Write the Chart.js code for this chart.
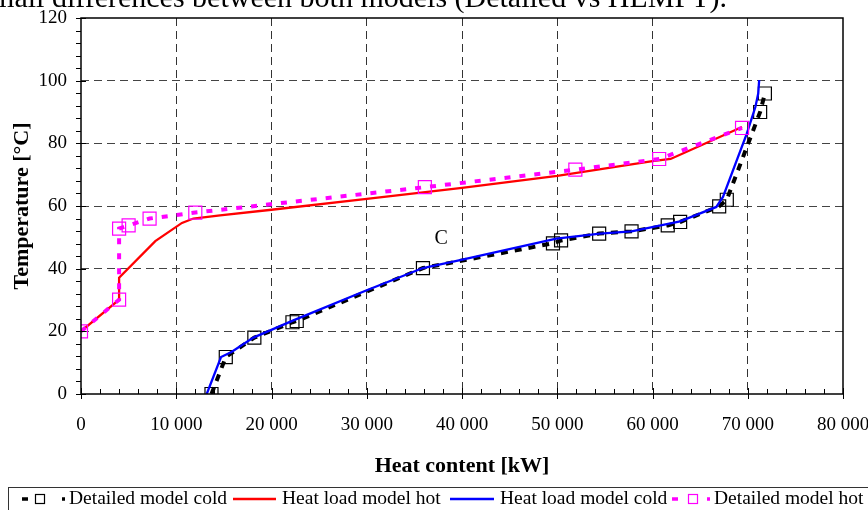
<!DOCTYPE html>
<html>
<head>
<meta charset="utf-8">
<script src="https://cdn.jsdelivr.net/npm/chart.js@4.4.0/dist/chart.umd.min.js"></script>
<style>
    html, body { margin: 0; padding: 0; background: #fff; }
    #wrap { position: relative; width: 868px; height: 510px; overflow: hidden; }
</style>
</head>
<body>
<div id="wrap"><canvas id="heatChart" width="868" height="510"></canvas></div>
<script>
// Detailed model, cold stream (markers + dashed line)
const detColdX = [13700, 15200, 18200, 22200, 22650, 35900, 49550, 50400, 54400, 57800, 61600, 62900, 67000, 67800, 71300, 71800];
const detColdT = [0, 11.8, 18, 22.9, 23.3, 40.2, 48.1, 49, 51.2, 51.9, 53.8, 54.9, 59.9, 62, 90, 95.9];

// Heat load model, hot stream
const hlmHotX = [0, 4000, 4000, 7800, 10600, 11800, 14600, 20000, 30000, 40000, 50000, 60000, 61900, 69400];
const hlmHotT = [20, 30.1, 37.1, 48.8, 54.6, 56, 57, 58.8, 62.3, 65.8, 69.6, 74.3, 75, 85.2];

// Heat load model, cold stream
const hlmColdX = [13200, 14700, 15800, 18100, 22300, 30000, 35900, 39800, 49900, 54500, 57800, 61500, 62900, 66700, 67400, 69900, 70800, 71100, 71200];
const hlmColdT = [0, 11.8, 13.4, 18, 23.5, 33.1, 40.2, 42.7, 49.6, 51.2, 51.9, 54.2, 55.1, 59.7, 62.9, 83.1, 91.6, 95.9, 100.2];

// Detailed model, hot stream (markers + dashed line)
const detHotX = [0, 4000, 4000, 5000, 7200, 12000, 36100, 51900, 60700, 69400];
const detHotT = [20, 30.1, 52.8, 53.8, 56, 57.9, 66, 71.6, 75, 84.9];

const xTicksMax = 80000;
const yTicksMax = 120;
const captionText = 'small differences between both models (Detailed vs HLMPT).';
const regionLabel = { text: 'C', x: 37800, y: 49.7 };

const serif = 'Liberation Serif';

function toPoints(xs, ys) {
    return xs.map((x, i) => ({ x: x, y: ys[i] }));
}

function fmt(v) {
    return String(v).replace(/\B(?=(\d{3})+(?!\d))/g, ' ');
}

// frame, axis lines, major/minor tick marks
const frameTicks = {
    id: 'frameTicks',
    afterDraw(chart) {
        const ctx = chart.ctx;
        const a = chart.chartArea;
        const xs = chart.scales.x, ys = chart.scales.y;
        ctx.save();
        ctx.strokeStyle = '#000';
        ctx.lineWidth = 1.5;
        ctx.setLineDash([]);
        ctx.strokeRect(a.left, a.top, a.right - a.left, a.bottom - a.top);

        ctx.lineWidth = 1;
        ctx.beginPath();
        for (let v = 0; v <= xTicksMax; v += 2000) {
            const px = Math.round(xs.getPixelForValue(v)) + 0.5;
            if (v % 10000 === 0) {
                ctx.moveTo(px, a.bottom - 6); ctx.lineTo(px, a.bottom + 5);
            } else {
                ctx.moveTo(px, a.bottom - 5); ctx.lineTo(px, a.bottom);
            }
        }
        for (let v = 0; v <= yTicksMax; v += 4) {
            const py = Math.round(ys.getPixelForValue(v)) + 0.5;
            if (v % 20 === 0) {
                ctx.moveTo(a.left - 5, py); ctx.lineTo(a.left + 5, py);
            } else {
                ctx.moveTo(a.left - 5, py); ctx.lineTo(a.left, py);
            }
        }
        ctx.stroke();
        ctx.restore();
    }
};

// caption line, region label and the boxed legend at the bottom
const extras = {
    id: 'extras',
    afterDraw(chart) {
        const ctx = chart.ctx;
        const xs = chart.scales.x, ys = chart.scales.y;
        ctx.save();
        ctx.fillStyle = '#000';

        ctx.font = '30px "' + serif + '"';
        ctx.textAlign = 'right';
        ctx.textBaseline = 'alphabetic';
        ctx.fillText(captionText, 727, 7);

        ctx.font = '20px "' + serif + '"';
        ctx.textAlign = 'center';
        ctx.textBaseline = 'middle';
        ctx.fillText(regionLabel.text, xs.getPixelForValue(regionLabel.x), ys.getPixelForValue(regionLabel.y));

        // legend box
        ctx.strokeStyle = '#333';
        ctx.lineWidth = 1;
        ctx.strokeRect(8.5, 487.5, 900, 40);

        const ly = 499;
        const ds = chart.data.datasets;
        ctx.font = '19.5px "' + serif + '"';
        ctx.textAlign = 'left';

        function dashedSample(color, x0, sq, x1, lw) {
            ctx.strokeStyle = color;
            ctx.lineWidth = lw;
            ctx.beginPath();
            ctx.moveTo(x0, ly); ctx.lineTo(x0 + 6, ly);
            ctx.moveTo(x1, ly); ctx.lineTo(x1 + 3, ly);
            ctx.stroke();
            ctx.lineWidth = 1.2;
            ctx.strokeRect(sq - 4.5, ly - 4.5, 9, 9);
        }
        function lineSample(color, x0, x1) {
            ctx.strokeStyle = color;
            ctx.lineWidth = 2.3;
            ctx.beginPath();
            ctx.moveTo(x0, ly); ctx.lineTo(x1, ly);
            ctx.stroke();
        }

        dashedSample('#000', 22, 40, 62, 3.5);
        ctx.fillText(ds[0].label, 69, ly);
        lineSample('#ff0000', 233, 276);
        ctx.fillText(ds[1].label, 282, ly);
        lineSample('#0000ff', 450, 494);
        ctx.fillText(ds[2].label, 500, ly);
        dashedSample('#ff00ff', 672, 693, 707, 3.5);
        ctx.fillText(ds[3].label, 714, ly);

        ctx.restore();
    }
};

const ctx = document.getElementById('heatChart').getContext('2d');
new Chart(ctx, {
    type: 'scatter',
    data: {
        datasets: [
            {
                label: 'Detailed model cold',
                data: toPoints(detColdX, detColdT),
                showLine: true,
                borderColor: '#000',
                borderWidth: 4,
                borderDash: [7, 7],
                pointStyle: 'rect',
                pointRadius: 9.2,
                pointBorderWidth: 1.2,
                pointBorderColor: '#000',
                pointBackgroundColor: 'rgba(0,0,0,0)',
                order: 3
            },
            {
                label: 'Heat load model hot',
                data: toPoints(hlmHotX, hlmHotT),
                showLine: true,
                borderColor: '#ff0000',
                borderWidth: 2.3,
                pointRadius: 0,
                order: 2
            },
            {
                label: 'Heat load model cold',
                data: toPoints(hlmColdX, hlmColdT),
                showLine: true,
                borderColor: '#0000ff',
                borderWidth: 2.3,
                pointRadius: 0,
                order: 1
            },
            {
                label: 'Detailed model hot',
                data: toPoints(detHotX, detHotT),
                showLine: true,
                borderColor: '#ff00ff',
                borderWidth: 4,
                borderDash: [6, 9],
                pointStyle: 'rect',
                pointRadius: 9.2,
                pointBorderWidth: 1.2,
                pointBorderColor: '#ff00ff',
                pointBackgroundColor: 'rgba(0,0,0,0)',
                order: 0
            }
        ]
    },
    options: {
        responsive: false,
        animation: false,
        layout: { autoPadding: false, padding: { top: 18, right: 25, bottom: 0, left: 0 } },
        plugins: {
            legend: { display: false },
            tooltip: { enabled: false }
        },
        scales: {
            x: {
                type: 'linear',
                min: 0,
                max: xTicksMax,
                afterFit: function (scale) {
                    scale.height = 116;
                    scale.paddingLeft = 0;
                    scale.paddingRight = 0;
                },
                ticks: {
                    stepSize: 10000,
                    padding: 20,
                    color: '#000',
                    maxRotation: 0,
                    font: { family: serif, size: 19 },
                    callback: v => fmt(v)
                },
                grid: {
                    drawTicks: false,
                    lineWidth: 1,
                    color: c => (c.tick && (c.tick.value === 0 || c.tick.value === xTicksMax)) ? 'rgba(0,0,0,0)' : '#333'
                },
                border: { display: false, dash: [8, 5] },
                title: {
                    display: true,
                    text: 'Heat content [kW]',
                    color: '#000',
                    font: { family: serif, size: 22, weight: 'bold' },
                    padding: { top: 0, bottom: 30 }
                }
            },
            y: {
                type: 'linear',
                min: 0,
                max: yTicksMax,
                afterFit: function (scale) {
                    scale.width = 81;
                    scale.paddingTop = 0;
                    scale.paddingBottom = 0;
                },
                ticks: {
                    stepSize: 20,
                    padding: 14,
                    color: '#000',
                    font: { family: serif, size: 19 }
                },
                grid: {
                    drawTicks: false,
                    lineWidth: 1,
                    color: c => (c.tick && (c.tick.value === 0 || c.tick.value === yTicksMax)) ? 'rgba(0,0,0,0)' : '#444'
                },
                border: { display: false, dash: [8, 5] },
                title: {
                    display: true,
                    text: 'Temperature [°C]',
                    color: '#000',
                    font: { family: serif, size: 22, weight: 'bold' },
                    padding: { top: 9, bottom: 0 }
                }
            }
        }
    },
    plugins: [frameTicks, extras]
});
</script>
</body>
</html>
